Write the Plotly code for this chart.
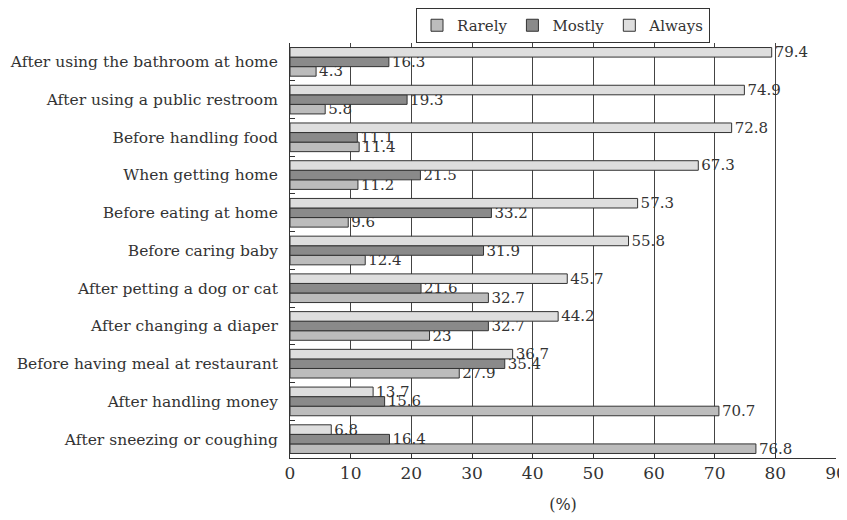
import plotly.graph_objects as go

categories = [
    "After using the bathroom at home",
    "After using a public restroom",
    "Before handling food",
    "When getting home",
    "Before eating at home",
    "Before caring baby",
    "After petting a dog or cat",
    "After changing a diaper",
    "Before having meal at restaurant",
    "After handling money",
    "After sneezing or coughing",
]
always = [79.4, 74.9, 72.8, 67.3, 57.3, 55.8, 45.7, 44.2, 36.7, 13.7, 6.8]
mostly = [16.3, 19.3, 11.1, 21.5, 33.2, 31.9, 21.6, 32.7, 35.4, 15.6, 16.4]
rarely = [4.3, 5.8, 11.4, 11.2, 9.6, 12.4, 32.7, 23, 27.9, 70.7, 76.8]
x_ticks = [0, 10, 20, 30, 40, 50, 60, 70, 80, 90]

cats = categories[::-1]
FONT = "DejaVu Serif"

fig = go.Figure()
series = [("Rarely", rarely, "#bcbcbc"), ("Mostly", mostly, "#8a8a8a"), ("Always", always, "#dedede")]
for name, vals, col in series:
    v = vals[::-1]
    fig.add_trace(go.Bar(
        name=name, y=cats, x=v, orientation="h",
        marker=dict(color=col, line=dict(color="#333333", width=1)),
        text=[f"{x:g}" for x in v], textposition="outside", constraintext="none",
        textfont=dict(family=FONT, size=15, color="#333333"),
        cliponaxis=False,
    ))

fig.update_layout(
    width=839, height=510,
    margin=dict(l=282, r=11, t=35, b=60, autoexpand=False),
    paper_bgcolor="white", plot_bgcolor="white",
    barmode="group", bargap=0.24, bargroupgap=0,
    font=dict(family=FONT, size=16, color="#333333"),
    legend=dict(orientation="h", x=0.5, xanchor="center", y=1.0, yanchor="top",
                yref="container",
                bordercolor="#333333", borderwidth=1,
                font=dict(family=FONT, size=15, color="#333333"),
                itemwidth=30, tracegroupgap=0),
    showlegend=True,
)
fig.update_xaxes(
    range=[0, 90], tickvals=x_ticks, showgrid=True, gridcolor="#444444", gridwidth=1,
    showline=True, linecolor="#333333", linewidth=1, ticks="inside", ticklen=5,
    tickcolor="#333333", zeroline=False, automargin=False, ticklabeloverflow="allow",
    tickfont=dict(family=FONT, size=17, color="#333333"),
    title=dict(text="(%)", font=dict(family=FONT, size=16, color="#333333"), standoff=16),
)
fig.update_yaxes(
    showline=True, linecolor="#333333", linewidth=1, ticks="inside", ticklen=5,
    tickson="boundaries", tickcolor="#333333", showgrid=False, automargin=False,
    ticklabelstandoff=8,
    tickfont=dict(family=FONT, size=15.5, color="#333333"),
)

fig.write_html("out.html")
